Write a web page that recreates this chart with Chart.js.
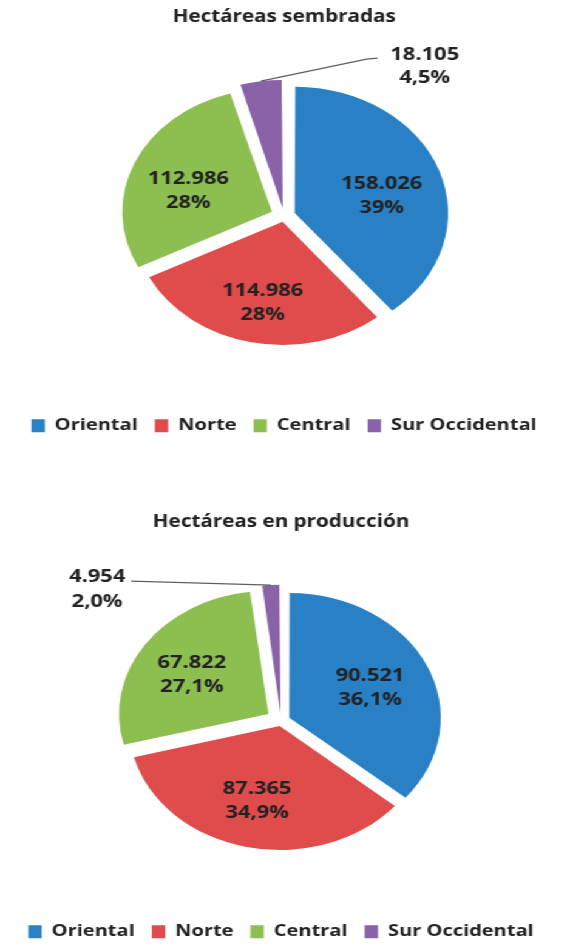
<!DOCTYPE html>
<html lang="es">
<head>
<meta charset="utf-8">
<title>Hectáreas</title>
<script src="https://cdn.jsdelivr.net/npm/chart.js@4.4.1/dist/chart.umd.min.js"></script>
<style>
  html, body { margin: 0; padding: 0; background: #fff; }
  body { width: 567px; height: 950px; overflow: hidden; }
  /* the reference is stretched sideways, so draw narrow and scale up */
  #wrap { width: 467px; transform: scale(1.2141, 1); transform-origin: 0 0; }
  .box { position: relative; width: 467px; height: 475px; }
</style>
</head>
<body>
<div id="wrap">
  <div class="box"><canvas id="sembradasChart"></canvas></div>
  <div class="box"><canvas id="produccionChart"></canvas></div>
</div>
<script>
const regiones = ["Oriental", "Norte", "Central", "Sur Occidental"];
const colores = ["#2A80C4", "#E04C4C", "#8CBE50", "#8A62A8"];

const sembradas = [158026, 114986, 112986, 18105];
const pctSembradas = ["39%", "28%", "28%", "4,5%"];

const produccion = [90521, 87365, 67822, 4954];
const pctProduccion = ["36,1%", "34,9%", "27,1%", "2,0%"];

const textColor = "#222222";
const fontFamily = "'Open Sans', sans-serif";

function formatMiles(v) {
  return String(v).replace(/\B(?=(\d{3})+(?!\d))/g, ".");
}

// draws value + percent inside each slice, and a callout for the small one
const sliceLabels = {
  id: "sliceLabels",
  afterDatasetsDraw(chart, args, opts) {
    const ctx = chart.ctx;
    const meta = chart.getDatasetMeta(0);
    const values = chart.data.datasets[0].data;
    ctx.save();
    ctx.font = "bold 18px " + fontFamily;
    ctx.fillStyle = textColor;
    ctx.textAlign = "center";
    ctx.textBaseline = "middle";
    meta.data.forEach(function (arc, i) {
      const p = arc.getProps(["x", "y", "startAngle", "endAngle", "outerRadius", "circumference"], true);
      const mid = (p.startAngle + p.endAngle) / 2;
      // same shift Chart.js applies to an offset arc
      const off = (arc.options.offset || 0) / 4;
      const fix = 1 - Math.sin(Math.min(Math.PI, p.circumference));
      const shift = off * (1 + fix);
      const cos = Math.cos(mid);
      const sin = Math.sin(mid);
      const line1 = formatMiles(values[i]);
      const line2 = opts.pct[i];

      if (i === opts.callout.index) {
        const ox = p.x + cos * (shift + p.outerRadius);
        const oy = p.y + sin * (shift + p.outerRadius);
        const c = opts.callout;
        ctx.strokeStyle = "#5f5f5f";
        ctx.lineWidth = 1.3;
        ctx.beginPath();
        ctx.moveTo(ox, oy);
        ctx.lineTo(ox + c.elbow[0], oy + c.elbow[1]);
        ctx.lineTo(ox + c.end[0], oy + c.end[1]);
        ctx.stroke();
        ctx.fillText(line1, ox + c.text[0], oy + c.text[1]);
        ctx.fillText(line2, ox + c.text[0], oy + c.text[2]);
      } else {
        const d = shift + p.outerRadius * opts.dist;
        const lx = p.x + cos * d + opts.shift[0];
        const ly = p.y + sin * d + opts.shift[1];
        ctx.fillText(line1, lx, ly - opts.lineGap / 2);
        ctx.fillText(line2, lx, ly + opts.lineGap / 2);
      }
    });
    ctx.restore();
  },
};

function pieConfig(titulo, valores, pct, layout, callout) {
  return {
    type: "pie",
    data: {
      labels: regiones,
      datasets: [
        {
          data: valores,
          backgroundColor: colores,
          borderWidth: 0,
          offset: layout.explode,
        },
      ],
    },
    options: {
      responsive: true,
      maintainAspectRatio: false,
      animation: false,
      radius: 123,
      layout: { padding: layout.padding },
      plugins: {
        title: {
          display: true,
          text: titulo,
          color: textColor,
          font: { family: fontFamily, size: 17, weight: "bold" },
          padding: layout.titlePadding,
        },
        legend: {
          position: "bottom",
          labels: {
            boxWidth: 11,
            boxHeight: 13,
            padding: 14,
            color: textColor,
            font: { family: fontFamily, size: 16.5, weight: "bold" },
          },
        },
        tooltip: { enabled: false },
        sliceLabels: {
          pct: pct,
          dist: 0.6,
          lineGap: 24,
          shift: layout.labelShift,
          callout: callout,
        },
      },
    },
    plugins: [sliceLabels],
  };
}

document.addEventListener("DOMContentLoaded", function () {
  new Chart(
    document.getElementById("sembradasChart"),
    pieConfig(
      "Hectáreas sembradas",
      sembradas,
      pctSembradas,
      {
        explode: [37, 23, 44, 31],
        padding: { left: 1, right: 0, top: 0, bottom: 31 },
        titlePadding: { top: 7, bottom: 1.5 },
        labelShift: [-1, 9],
      },
      { index: 3, elbow: [87, -22], end: [96, -23], text: [135, -26, -3] }
    )
  );

  new Chart(
    document.getElementById("produccionChart"),
    pieConfig(
      "Hectáreas en producción",
      produccion,
      pctProduccion,
      {
        explode: [30, 21, 50, 28],
        padding: { left: 0, right: 4, top: 0, bottom: 0 },
        titlePadding: { top: 37, bottom: 0 },
        labelShift: [-2, 2],
      },
      { index: 3, elbow: [-115, -4], end: [-115, -4], text: [-143, -8, 17] }
    )
  );
});
</script>
</body>
</html>
